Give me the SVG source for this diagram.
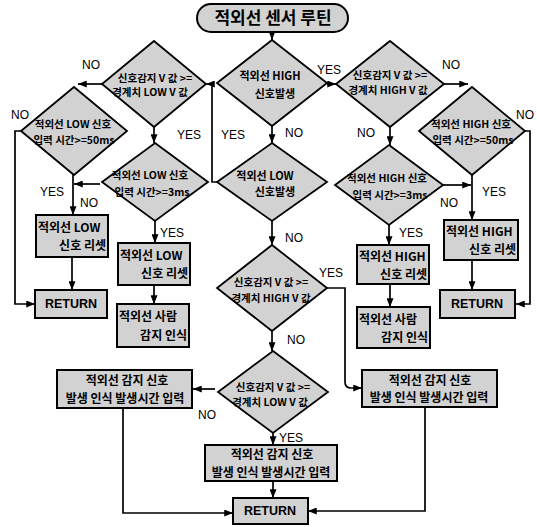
<svg xmlns="http://www.w3.org/2000/svg" width="537" height="527" viewBox="0 0 537 527">
<style>
.box{fill:#d2d2d2;stroke:#000;stroke-width:2}
.dia{fill:#d2d2d2;stroke:#000;stroke-width:1.8}
.ln{fill:none;stroke:#000;stroke-width:1.7;marker-end:url(#ah)}
.t{font-family:"Noto Sans CJK KR","Noto Sans",sans-serif;font-weight:bold;font-size:12px;fill:#000}
.d{font-family:"Noto Sans CJK KR","Noto Sans",sans-serif;font-weight:bold;font-size:10.5px;fill:#000;text-anchor:middle}
.c{text-anchor:middle}
.e{text-anchor:end}
.lbl{font-family:"Liberation Sans",Arial,sans-serif;font-size:12px;fill:#000;text-anchor:middle}
.ret{font-family:"Liberation Sans",Arial,sans-serif;font-weight:bold;font-size:12.5px;fill:#000;text-anchor:middle}
</style>
<defs>
<marker id="ah" viewBox="0 0 10 8" refX="10" refY="4" markerWidth="9" markerHeight="7" markerUnits="userSpaceOnUse" orient="auto">
<path d="M0,0 L10,4 L0,8 z" fill="#000"/>
</marker>
</defs>
<rect width="537" height="527" fill="#fff"/>

<g id="connectors">
<path class="ln" d="M272,32 V40"/>
<path class="ln" d="M327,84 H336"/>
<path class="ln" d="M444,84 H468"/>
<path class="ln" d="M525,131 H530 V304 H516"/>
<path class="ln" d="M472,175 V220"/>
<path class="ln" d="M443,185 H471"/>
<path class="ln" d="M472,260 V290"/>
<path class="ln" d="M390,127 V145"/>
<path class="ln" d="M389,225 V245"/>
<path class="ln" d="M390,284 V307"/>
<path class="ln" d="M272,126 V143"/>
<path class="ln" d="M217,182 H212 V84 H206"/>
<path class="ln" d="M102,84 H78"/>
<path class="ln" d="M154,127 V143"/>
<path class="ln" d="M21,131 H15 V304 H35"/>
<path class="ln" d="M73,175 V215"/>
<path class="ln" d="M100,184 H74"/>
<path class="ln" d="M72,257 V290"/>
<path class="ln" d="M155,221 V243"/>
<path class="ln" d="M154,285 V304"/>
<path class="ln" d="M272,221 V245"/>
<path class="ln" d="M327,288 H345 V382 Q345,388 351,388 H362"/>
<path class="ln" d="M272,331 V351"/>
<path class="ln" d="M215,389 H193"/>
<path class="ln" d="M273,433 V445"/>
<path class="ln" d="M273,481 V498"/>
<path class="ln" d="M123,408 V513 H233"/>
<path class="ln" d="M425,407 V511 H308"/>
</g>

<g id="labels">
<text class="lbl" x="329" y="74">YES</text>
<text class="lbl" x="451" y="69">NO</text>
<text class="lbl" x="525" y="119">NO</text>
<text class="lbl" x="366" y="137">NO</text>
<text class="lbl" x="294" y="137">NO</text>
<text class="lbl" x="233" y="139">YES</text>
<text class="lbl" x="189" y="139">YES</text>
<text class="lbl" x="91" y="69">NO</text>
<text class="lbl" x="20" y="119">NO</text>
<text class="lbl" x="52" y="196">YES</text>
<text class="lbl" x="89" y="207">NO</text>
<text class="lbl" x="172" y="237">YES</text>
<text class="lbl" x="494" y="196">YES</text>
<text class="lbl" x="449" y="207">NO</text>
<text class="lbl" x="411" y="237">YES</text>
<text class="lbl" x="294" y="242">NO</text>
<text class="lbl" x="331" y="277">YES</text>
<text class="lbl" x="296" y="344">NO</text>
<text class="lbl" x="207" y="419">NO</text>
<text class="lbl" x="291" y="442">YES</text>
</g>

<g id="start">
<rect class="box" x="197" y="4" width="151" height="28" rx="14" ry="14"/>
<text class="t c" x="273" y="24" style="font-size:17px">적외선 센서 루틴</text>
</g>

<g id="d1">
<polygon class="dia" points="272,40 327,83 272,126 217,83"/>
<text class="d" x="270" y="80" style="font-size:11px">적외선 HIGH</text>
<text class="d" x="275" y="98" style="font-size:11px">신호발생</text>
</g>
<g id="d2">
<polygon class="dia" points="390,41 444,84 390,127 336,84"/>
<text class="d" x="390" y="79">신호감지 V 값 &gt;=</text>
<text class="d" x="388" y="94">경계치 HIGH V 값</text>
</g>
<g id="d3">
<polygon class="dia" points="472,87 525,131 472,175 419,131"/>
<text class="d" x="471" y="128">적외선 HIGH 신호</text>
<text class="d" x="473" y="144">입력 시간&gt;=50ms</text>
</g>
<g id="d4">
<polygon class="dia" points="389,145 443,185 389,225 335,185"/>
<text class="d" x="387" y="182">적외선 HIGH 신호</text>
<text class="d" x="390" y="199">입력 시간&gt;=3ms</text>
</g>
<g id="d5">
<polygon class="dia" points="154,41 206,84 154,127 102,84"/>
<text class="d" x="155" y="82">신호감지 V 값 &gt;=</text>
<text class="d" x="150" y="96">경계치 LOW V 값</text>
</g>
<g id="d8">
<polygon class="dia" points="74,87 127,131 74,175 21,131"/>
<text class="d" x="73" y="128">적외선 LOW 신호</text>
<text class="d" x="74" y="144">입력 시간&gt;=50ms</text>
</g>
<g id="d7">
<polygon class="dia" points="155,143 208,182 155,221 102,182"/>
<text class="d" x="150" y="179">적외선 LOW 신호</text>
<text class="d" x="152" y="196">입력 시간&gt;=3ms</text>
</g>
<g id="d6">
<polygon class="dia" points="272,143 327,182 272,221 217,182"/>
<text class="d" x="265" y="180" style="font-size:11px">적외선 LOW</text>
<text class="d" x="275" y="196" style="font-size:11px">신호발생</text>
</g>
<g id="d9">
<polygon class="dia" points="272,245 327,288 272,331 217,288"/>
<text class="d" x="271" y="286">신호감지 V 값 &gt;=</text>
<text class="d" x="271" y="302">경계치 HIGH V 값</text>
</g>
<g id="d10">
<polygon class="dia" points="273,351 328,392 273,433 218,392"/>
<text class="d" x="273" y="391">신호감지 V 값 &gt;=</text>
<text class="d" x="270" y="406">경계치 LOW V 값</text>
</g>

<g id="low-reset-l">
<rect class="box" x="36" y="215" width="72" height="42"/>
<text class="t" x="38" y="232">적외선 LOW</text>
<text class="t e" x="106" y="250">신호 리셋</text>
</g>
<g id="return-l">
<rect class="box" x="35" y="290" width="72" height="28"/>
<text class="ret" x="71" y="308">RETURN</text>
</g>
<g id="low-reset-m">
<rect class="box" x="118" y="243" width="72" height="42"/>
<text class="t" x="120" y="260">적외선 LOW</text>
<text class="t e" x="188" y="278">신호 리셋</text>
</g>
<g id="person-l">
<rect class="box" x="117" y="304" width="72" height="43"/>
<text class="t" x="119" y="321">적외선 사람</text>
<text class="t e" x="187" y="340">감지 인식</text>
</g>
<g id="high-reset-r">
<rect class="box" x="444" y="220" width="74" height="40"/>
<text class="t" x="446" y="236">적외선 HIGH</text>
<text class="t e" x="516" y="254">신호 리셋</text>
</g>
<g id="return-r">
<rect class="box" x="440" y="290" width="75" height="28"/>
<text class="ret" x="477" y="308">RETURN</text>
</g>
<g id="high-reset-m">
<rect class="box" x="357" y="245" width="72" height="39"/>
<text class="t" x="359" y="261">적외선 HIGH</text>
<text class="t e" x="427" y="279">신호 리셋</text>
</g>
<g id="person-r">
<rect class="box" x="357" y="307" width="73" height="41"/>
<text class="t" x="359" y="324">적외선 사람</text>
<text class="t e" x="428" y="342">감지 인식</text>
</g>
<g id="detect-l">
<rect class="box" x="57" y="370" width="135" height="38"/>
<text class="t c" x="127" y="385">적외선 감지 신호</text>
<text class="t c" x="125" y="403">발생 인식 발생시간 입력</text>
</g>
<g id="detect-r">
<rect class="box" x="362" y="370" width="135" height="37"/>
<text class="t c" x="430" y="385">적외선 감지 신호</text>
<text class="t c" x="429" y="402">발생 인식 발생시간 입력</text>
</g>
<g id="detect-c">
<rect class="box" x="205" y="445" width="132" height="36"/>
<text class="t c" x="272" y="459">적외선 감지 신호</text>
<text class="t c" x="271" y="477">발생 인식 발생시간 입력</text>
</g>
<g id="return-c">
<rect class="box" x="233" y="498" width="75" height="26"/>
<text class="ret" x="270" y="515">RETURN</text>
</g>
</svg>
